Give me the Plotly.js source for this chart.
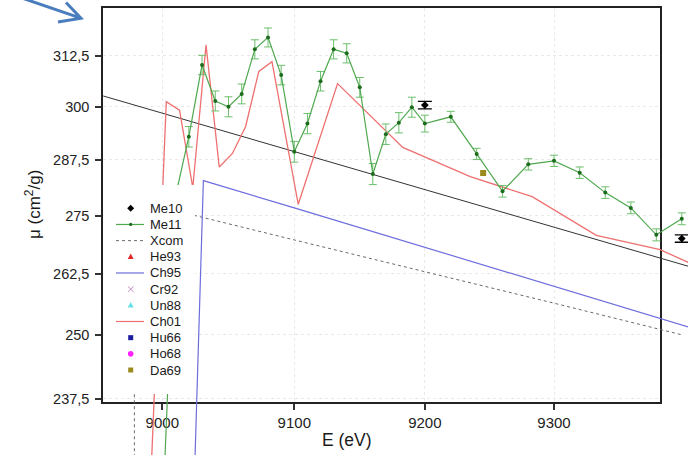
<!DOCTYPE html>
<html><head><meta charset="utf-8">
<script src="https://cdn.plot.ly/plotly-3.0.1.min.js"></script>
<style>html,body{margin:0;padding:0;background:#fff}#chart{width:695px;height:455px}</style>
</head><body><div id="chart"></div>
<script>
// ---------------- data ----------------
const me11E  = [9000,9010,9020,9030,9040,9050,9060,9070,9080,9090,9100,9110,9120,9130,9140,9150,9160,9170,9180,9190,9200,9220,9240,9260,9280,9300,9320,9340,9360,9380,9400];
const me11Mu = [215.0,279.3,292.9,310.2,301.4,300.0,303.1,314.1,317.1,307.7,289.4,296.0,306.2,314.1,313.1,304.7,284.3,293.5,296.2,299.9,296.0,297.6,288.9,280.4,286.5,287.3,284.6,280.1,276.7,270.8,274.3];
const me11Err= [2.4,2.4,2.4,2.4,2.4,2.4,2.4,2.4,2.4,2.4,2.4,2.4,2.4,2.4,2.4,2.4,2.4,2.4,2.4,2.4,2.0,1.3,1.3,1.3,1.3,1.3,1.3,1.3,1.3,1.3,1.3];
const me10E  = [9200, 9400];
const me10Mu = [300.4, 270.0];
const me10Err= [0.9, 0.8];
const xcomE  = [8979, 8979, 9100, 9200, 9300, 9400];
const xcomMu = [36.1, 278.3, 269.7, 263.0, 256.4, 250.0];
const ch95E  = [8979, 9031, 9100, 9200, 9300, 9410];
const ch95Mu = [45.6, 282.8, 276.7, 268.1, 259.9, 251.2];
const ch01E  = [8979, 9003, 9013, 9023, 9033, 9043, 9053, 9063, 9073, 9083, 9103, 9133, 9183, 9235, 9283, 9333, 9383, 9410];
const ch01Mu = [161.5, 301.2, 299.2, 281.2, 315.2, 285.9, 289.0, 295.3, 308.6, 311.0, 277.5, 305.6, 290.4, 283.7, 279.2, 270.7, 267.6, 264.3];
const refE   = [8955.6, 9410];
const refMu  = [302.6, 263.7];
const da69E  = [9245];
const da69Mu = [284.5];
const xTickVals = [9000, 9100, 9200, 9300];
const xTickText = ['9000', '9100', '9200', '9300'];
const yTickVals = [237.5, 250, 262.5, 275, 287.5, 300, 312.5];
const yTickText = ['237,5', '250', '262,5', '275', '287,5', '300', '312,5'];
const legendLabels = ['Me10','Me11','Xcom','He93','Ch95','Cr92','Un88','Ch01','Hu66','Ho68','Da69'];

// ---------------- geometry ----------------
const W = 695, H = 455;
const X0PX = 162.3, X0LOG = Math.log10(9000), XS = 27507;
const Y0PX = 55.7, Y0LOG = Math.log10(312.5), YS = 2880;
const lx = p => X0LOG + (p - X0PX) / XS;
const ly = p => Y0LOG - (p - Y0PX) / YS;
const fx = p => p / W;
const fy = p => 1 - p / H;
const BOX = {l: 103.3, r: 660, t: 8.3, b: 401.7};
const CLIPR = 688;
const FONT = 'Liberation Sans, Arial, sans-serif';

const ax2 = {xaxis: 'x2', yaxis: 'y2', showlegend: false, hoverinfo: 'skip'};
const traces = [
  Object.assign({x: xcomE, y: xcomMu, mode: 'lines', name: 'Xcom', line: {color: '#6a6a6a', width: 1, dash: 'dot'}}, ax2),
  Object.assign({x: ch95E, y: ch95Mu, mode: 'lines', name: 'Ch95', line: {color: '#6d6ddd', width: 1.2}}, ax2),
  Object.assign({x: refE, y: refMu, mode: 'lines', name: 'ref', line: {color: '#333333', width: 1}}, ax2),
  Object.assign({x: ch01E, y: ch01Mu, mode: 'lines', name: 'Ch01', line: {color: '#ee7070', width: 1.3}}, ax2),
  Object.assign({x: me11E, y: me11Mu, mode: 'lines+markers', name: 'Me11',
    line: {color: '#4fa84f', width: 1.2}, marker: {color: '#1d6b1d', size: 4},
    error_y: {type: 'data', array: me11Err, visible: true, color: '#6cbf6c', thickness: 1, width: 4}}, ax2),
  Object.assign({x: me10E, y: me10Mu, mode: 'markers', name: 'Me10',
    marker: {color: '#000', size: 6, symbol: 'diamond'},
    error_y: {type: 'data', array: me10Err, visible: true, color: '#000', thickness: 1.3, width: 7}}, ax2),
  {x: da69E, y: da69Mu, mode: 'markers', name: 'Da69', xaxis: 'x', yaxis: 'y', showlegend: false, hoverinfo: 'skip',
    marker: {color: '#9a8a1e', size: 6, symbol: 'square'}}
];

// ---------------- legend (drawn manually) ----------------
const shapes = [];
const annotations = [];
shapes.push({type: 'rect', xref: 'paper', yref: 'paper', x0: fx(104.5), x1: fx(195), y0: fy(394), y1: fy(185),
  fillcolor: '#ffffff', line: {width: 0}, layer: 'above'});
const symX = 130.7, rowY0 = 208.3, rowDy = 16.17;
const legendStyle = [
  {k: 'diamond', c: '#000000'},
  {k: 'lineDot', c: '#4fa84f', d: '#1d6b1d'},
  {k: 'dotline', c: '#6a6a6a'},
  {k: 'tri', c: '#e0282a'},
  {k: 'line', c: '#6d6ddd'},
  {k: 'x', c: '#c08ac0'},
  {k: 'tri', c: '#66e0e6'},
  {k: 'line', c: '#ee7070'},
  {k: 'square', c: '#1c1ca0'},
  {k: 'circle', c: '#ff22ff'},
  {k: 'square', c: '#9a8a1e'}
];
legendLabels.forEach((lab, i) => {
  const y = rowY0 + i * rowDy;
  const st = legendStyle[i];
  const P = (a, b) => fx(a) + ' ' + fy(b);
  if (st.k === 'line' || st.k === 'lineDot' || st.k === 'dotline') {
    shapes.push({type: 'line', xref: 'paper', yref: 'paper', x0: fx(116), x1: fx(144), y0: fy(y), y1: fy(y),
      line: {color: st.c, width: st.k === 'dotline' ? 1 : 1.2, dash: st.k === 'dotline' ? 'dot' : 'solid'}, layer: 'above'});
    if (st.k === 'lineDot') shapes.push({type: 'circle', xref: 'paper', yref: 'paper', x0: fx(symX - 1.6), x1: fx(symX + 1.6),
      y0: fy(y + 1.6), y1: fy(y - 1.6), fillcolor: st.d, line: {width: 0}, layer: 'above'});
  } else if (st.k === 'diamond') {
    shapes.push({type: 'path', xref: 'paper', yref: 'paper', path: 'M ' + P(symX, y - 3.5) + ' L ' + P(symX + 3.5, y) + ' L ' + P(symX, y + 3.5) + ' L ' + P(symX - 3.5, y) + ' Z',
      fillcolor: st.c, line: {width: 0}, layer: 'above'});
  } else if (st.k === 'tri') {
    shapes.push({type: 'path', xref: 'paper', yref: 'paper', path: 'M ' + P(symX, y - 3.2) + ' L ' + P(symX + 3, y + 2.2) + ' L ' + P(symX - 3, y + 2.2) + ' Z',
      fillcolor: st.c, line: {width: 0}, layer: 'above'});
  } else if (st.k === 'x') {
    shapes.push({type: 'path', xref: 'paper', yref: 'paper', path: 'M ' + P(symX - 2.8, y - 2.8) + ' L ' + P(symX + 2.8, y + 2.8) + ' M ' + P(symX - 2.8, y + 2.8) + ' L ' + P(symX + 2.8, y - 2.8),
      line: {color: st.c, width: 1}, layer: 'above'});
  } else if (st.k === 'square') {
    shapes.push({type: 'rect', xref: 'paper', yref: 'paper', x0: fx(symX - 2.5), x1: fx(symX + 2.5), y0: fy(y + 2.5), y1: fy(y - 2.5),
      fillcolor: st.c, line: {width: 0}, layer: 'above'});
  } else if (st.k === 'circle') {
    shapes.push({type: 'circle', xref: 'paper', yref: 'paper', x0: fx(symX - 2.8), x1: fx(symX + 2.8), y0: fy(y + 2.8), y1: fy(y - 2.8),
      fillcolor: st.c, line: {width: 0}, layer: 'above'});
  }
  annotations.push({text: lab, xref: 'paper', yref: 'paper', x: fx(148), y: fy(y), xanchor: 'left', yanchor: 'middle',
    showarrow: false, font: {family: FONT, size: 13, color: '#1a1a1a'}});
});

// arrow at top-left
shapes.push({type: 'path', xref: 'paper', yref: 'paper',
  path: 'M ' + fx(16) + ' ' + fy(-4) + ' L ' + fx(80) + ' ' + fy(17.8) + ' M ' + fx(66) + ' ' + fy(2.5) + ' L ' + fx(81) + ' ' + fy(18.2) + ' L ' + fx(58) + ' ' + fy(22),
  line: {color: '#4a7dbd', width: 3}, fillcolor: 'rgba(0,0,0,0)', layer: 'above'});

// axis titles
annotations.push({text: 'E (eV)', xref: 'paper', yref: 'paper', x: fx(347), y: fy(440), xanchor: 'center', yanchor: 'middle',
  showarrow: false, font: {family: FONT, size: 17.5, color: '#1a1a1a'}});
annotations.push({text: 'μ (cm<sup>2</sup>/g)', xref: 'paper', yref: 'paper', x: fx(33), y: fy(205), xanchor: 'center', yanchor: 'middle',
  textangle: -90, showarrow: false, font: {family: FONT, size: 17, color: '#1a1a1a'}});

const boxAxisCommon = {type: 'log', showline: true, mirror: true, linecolor: '#222', linewidth: 2,
  ticks: 'outside', ticklen: 6, tickwidth: 2, tickcolor: '#333', showgrid: true, gridcolor: '#e9e9e9', griddash: 'dot', gridwidth: 1,
  zeroline: false, automargin: false, fixedrange: true, tickmode: 'array', tickfont: {family: FONT, size: 14.5, color: '#222'}};

const layout = {
  width: W, height: H, autosize: false,
  margin: {l: 0, r: 0, t: 0, b: 0, pad: 0},
  paper_bgcolor: '#fff', plot_bgcolor: 'rgba(0,0,0,0)',
  showlegend: false,
  xaxis: Object.assign({}, boxAxisCommon, {domain: [fx(BOX.l), fx(BOX.r)], range: [lx(BOX.l), lx(BOX.r)], anchor: 'y',
    tickvals: xTickVals, ticktext: xTickText, tickfont: {family: FONT, size: 15, color: '#222'}}),
  yaxis: Object.assign({}, boxAxisCommon, {domain: [fy(BOX.b), fy(BOX.t)], range: [ly(BOX.b), ly(BOX.t)], anchor: 'x',
    tickvals: yTickVals, ticktext: yTickText, ticklabelstandoff: 3}),
  xaxis2: {type: 'log', domain: [0, fx(CLIPR)], range: [lx(0), lx(CLIPR)], anchor: 'y2', visible: false, fixedrange: true},
  yaxis2: {type: 'log', domain: [0, 1], range: [ly(H), ly(0)], anchor: 'x2', visible: false, fixedrange: true},
  shapes: shapes,
  annotations: annotations
};

Plotly.newPlot('chart', traces, layout, {displayModeBar: false, staticPlot: true});
</script>
</body></html>
